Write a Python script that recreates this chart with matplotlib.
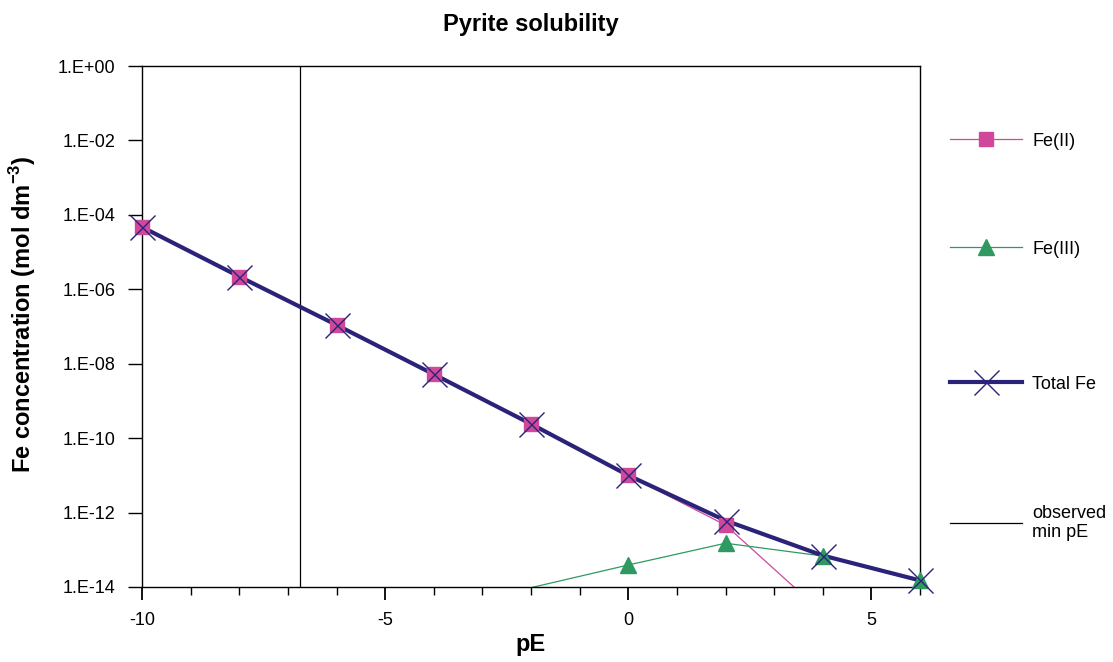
import numpy as np
import matplotlib.pyplot as plt
from matplotlib.ticker import FixedLocator, MultipleLocator, NullLocator, FuncFormatter

plt.rcParams['font.family'] = ['Liberation Sans', 'DejaVu Sans']
plt.rcParams['axes.unicode_minus'] = False

# data
pE = np.array([-10, -8, -6, -4, -2, 0, 2, 4, 6])
fe2 = np.array([4.7e-5, 2.2e-6, 1.1e-7, 5.2e-9, 2.4e-10, 1.0e-11, 4.6e-13, 2.0e-15, 8e-18])
fe3 = np.array([2e-17, 9e-17, 4e-16, 2e-15, 9.6e-15, 3.9e-14, 1.5e-13, 6.8e-14, 1.5e-14])
total = np.array([4.7e-5, 2.2e-6, 1.1e-7, 5.2e-9, 2.4e-10, 1.0e-11, 6.1e-13, 7.0e-14, 1.5e-14])
obs_min_pE = -6.75

ymin, ymax = 1e-14, 1.0

fig = plt.figure(figsize=(11.13, 6.62), dpi=100)
ax = fig.add_axes([0.1276, 0.1133, 0.699, 0.787])

c2 = '#D0489A'
c3 = '#2E9A60'
ct = '#2B2279'

ax.axvline(obs_min_pE, color='black', lw=0.9, zorder=1)

# lines first, clipped to the plot area
l2, = ax.plot(pE, fe2, color=c2, lw=0.9, zorder=2)
l3, = ax.plot(pE, fe3, color=c3, lw=0.9, zorder=2)
lt, = ax.plot(pE, total, color=ct, lw=3.0, zorder=2.5)

# markers only where the point is in range, not clipped (like Excel)
def inrange(v):
    return (v >= ymin * 0.999) & (v <= ymax)

m2, = ax.plot(pE[inrange(fe2)], fe2[inrange(fe2)], ls='none', marker='s', ms=10.5,
              mfc=c2, mec=c2, clip_on=False, zorder=3)
m3, = ax.plot(pE[inrange(fe3)], fe3[inrange(fe3)], ls='none', marker='^', ms=11.5,
              mfc=c3, mec=c3, clip_on=False, zorder=3.1)
mt, = ax.plot(pE[inrange(total)], total[inrange(total)], ls='none', marker='x', ms=18,
              mew=1.0, color=ct, clip_on=False, zorder=3.2)

ax.set_yscale('log')
ax.set_ylim(ymin, ymax)
ax.set_xlim(-10, 6)
ax.yaxis.set_major_locator(FixedLocator([10.0 ** e for e in range(0, -15, -2)]))
ax.yaxis.set_minor_locator(NullLocator())
ax.yaxis.set_major_formatter(FuncFormatter(lambda v, p: '1.E%+03d' % int(round(np.log10(v)))))
ax.xaxis.set_major_locator(MultipleLocator(5))
ax.xaxis.set_minor_locator(MultipleLocator(1))

ax.tick_params(axis='y', which='major', direction='out', length=10, width=1, pad=9, labelsize=13)
ax.tick_params(axis='x', which='major', direction='out', length=9, width=1.3, pad=9, labelsize=13)
ax.tick_params(axis='x', which='minor', direction='out', length=6, width=1)
for s in ax.spines.values():
    s.set_linewidth(1.0)
    s.set_color('black')

ax.set_title('Pyrite solubility', fontsize=17, fontweight='bold', pad=25)
ax.set_xlabel('pE', fontsize=17, fontweight='bold', labelpad=3)
ax.set_ylabel('Fe concentration (mol dm$^{\\mathregular{-3}}$)', fontsize=17,
              fontweight='bold')
ax.yaxis.set_label_coords(-0.134, 0.524)

vline_handle = plt.Line2D([], [], color='black', lw=0.9)
entries = [((l2, m2), 'Fe(II)', 141),
           ((l3, m3), 'Fe(III)', 249),
           ((lt, mt), 'Total Fe', 384),
           (vline_handle, 'observed\nmin pE', 523)]
for h, lab, ypx in entries:
    leg = fig.legend([h], [lab], loc='center left',
                     bbox_to_anchor=(950 / 1113, 1 - ypx / 662),
                     frameon=False, fontsize=13, handlelength=4.0,
                     handletextpad=0.55, borderpad=0, borderaxespad=0)

fig.savefig('out.png', dpi=100)
